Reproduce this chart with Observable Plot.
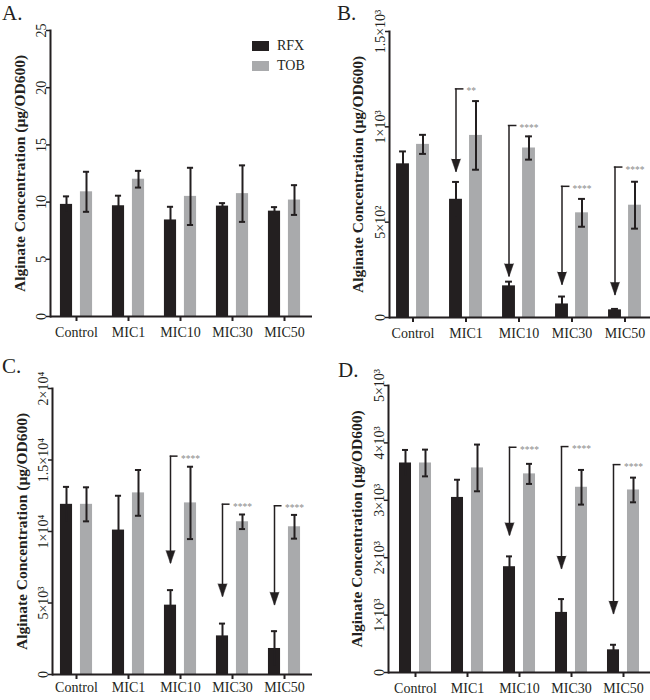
<!DOCTYPE html>
<html>
<head>
<meta charset="utf-8">
<script src="https://cdn.jsdelivr.net/npm/d3@7"></script>
<script src="https://cdn.jsdelivr.net/npm/@observablehq/plot@0.6"></script>
<style>
  body { margin: 0; background: #fff; overflow: hidden; }
  #wrap { position: relative; width: 650px; height: 700px; font-family: "Liberation Serif", "Times New Roman", serif; color: #231f20; }
  .panel { position: absolute; }
  .panel svg, .panel svg text { font-family: "Liberation Serif", "Times New Roman", serif !important; }
  .letter { position: absolute; font-size: 21px; line-height: 1; }
  .leg { position: absolute; font-size: 14px; line-height: 1; display: flex; align-items: center; }
  .sw { width: 17px; height: 10px; margin-right: 8px; }
</style>
</head>
<body>
<div id="wrap"></div>
<script>
// ---------------- data ----------------
const categories = ["Control", "MIC1", "MIC10", "MIC30", "MIC50"];
const seriesNames = ["RFX", "TOB"];
const yTitle = "Alginate Concentration (\u00b5g/OD600)";

// Panel A
const rfxA    = [9.8, 9.68, 8.44, 9.65, 9.21];
const rfxErrA = [0.7, 0.88, 1.15, 0.26, 0.35];
const tobA    = [10.9, 12.0, 10.5, 10.74, 10.18];
const tobErrA = [1.75, 0.73, 2.5, 2.47, 1.3];
const yTicksA = [0, 5, 10, 15, 20, 25];
const yTickLabelsA = ["0", "5", "10", "15", "20", "25"];

// Panel B
const rfxB    = [806, 620, 166, 71, 40];
const rfxErrB = [65, 91, 22, 39, 5];
const tobB    = [908, 955, 889, 549, 589];
const tobErrB = [50, 180, 61, 73, 123];
const yTicksB = [0, 500, 1000, 1500];
const yTickLabelsB = ["0", "5\u00d710\u00b2", "1\u00d710\u00b3", "1.5\u00d710\u00b3"];
const arrowCatsB = ["MIC1", "MIC10", "MIC30", "MIC50"];
const arrowTopB  = [1199, 1007, 688, 789];
const arrowTipB  = [763, 214, 171, 117];
const starsB     = ["**", "****", "****", "****"];

// Panel C
const rfxC    = [11900, 10100, 4850, 2700, 1820];
const rfxErrC = [1220, 2400, 1050, 860, 1210];
const tobC    = [11900, 12700, 12000, 10680, 10330];
const tobErrC = [1190, 1600, 2530, 510, 830];
const yTicksC = [0, 5000, 10000, 15000, 20000];
const yTickLabelsC = ["0", "5\u00d710\u00b3", "1\u00d710\u2074", "1.5\u00d710\u2074", "2\u00d710\u2074"];
const arrowCatsC = ["MIC10", "MIC30", "MIC50"];
const arrowTopC  = [15270, 11910, 11800];
const arrowTipC  = [7760, 5430, 4850];
const starsC     = ["****", "****", "****"];

// Panel D
const rfxD    = [3650, 3050, 1843, 1047, 395];
const rfxErrD = [227, 308, 180, 232, 88];
const tobD    = [3650, 3564, 3460, 3227, 3180];
const tobErrD = [233, 407, 175, 302, 215];
const yTicksD = [0, 1000, 2000, 3000, 4000, 5000];
const yTickLabelsD = ["0", "1\u00d710\u00b3", "2\u00d710\u00b3", "3\u00d710\u00b3", "4\u00d710\u00b3", "5\u00d710\u00b3"];
const arrowCatsD = ["MIC10", "MIC30", "MIC50"];
const arrowTopD  = [3924, 3936, 3622];
const arrowTipD  = [2384, 1802, 1017];
const starsD     = ["****", "****", "****"];

// ---------------- style ----------------
const BLACK = "#231f20";
const GRAY = "#a9aaac";
const STAR = "#8a8a8a";
const FONT = "Liberation Serif";

function makePanel(cfg) {
  const g = cfg.geo;
  const rfxRows = categories.map((c, i) => ({cat: c, series: seriesNames[0], v: cfg.rfx[i], e: cfg.rfxErr[i]}));
  const tobRows = categories.map((c, i) => ({cat: c, series: seriesNames[1], v: cfg.tob[i], e: cfg.tobErr[i]}));
  const tickRows = cfg.yTicks.map((t, i) => ({v: t, label: cfg.yTickLabels[i]}));
  const arrows = (cfg.arrowCats || []).map((c, i) => ({cat: c, top: cfg.arrowTop[i], tip: cfg.arrowTip[i], stars: cfg.stars[i]}));

  const bw = (g.range[1] - g.range[0]) / categories.length;
  const barW = 13, off = 10, capW = 7;
  const barInset = o => ({insetLeft: bw / 2 + o - barW / 2, insetRight: bw / 2 - o - barW / 2});
  const capInset = o => ({insetLeft: bw / 2 + o - capW / 2, insetRight: bw / 2 - o - capW / 2});

  const marks = [
    Plot.barY(rfxRows, {x: "cat", y: "v", fill: BLACK, ...barInset(-off)}),
    Plot.barY(tobRows, {x: "cat", y: "v", fill: GRAY, ...barInset(off)}),
    Plot.ruleX(rfxRows, {x: "cat", y1: d => d.v - d.e, y2: d => d.v + d.e, dx: -off, stroke: BLACK, strokeWidth: 2}),
    Plot.ruleX(tobRows, {x: "cat", y1: d => d.v - d.e, y2: d => d.v + d.e, dx: off, stroke: BLACK, strokeWidth: 2}),
    Plot.tickY(rfxRows, {x: "cat", y: d => d.v + d.e, stroke: BLACK, strokeWidth: 2, ...capInset(-off)}),
    Plot.tickY(tobRows, {x: "cat", y: d => d.v + d.e, stroke: BLACK, strokeWidth: 2, ...capInset(off)}),
    Plot.tickY(tobRows, {x: "cat", y: d => d.v - d.e, stroke: BLACK, strokeWidth: 2, ...capInset(off)}),
    // arrows
    Plot.ruleX(arrows, {x: "cat", y1: "top", y2: "tip", dx: -off, stroke: BLACK, strokeWidth: 1.5}),
    Plot.tickY(arrows, {x: "cat", y: "top", stroke: BLACK, strokeWidth: 1.5, insetLeft: bw / 2 - off - 0.75, insetRight: bw / 2 + off - 8}),
    Plot.vector(arrows, {x: "cat", y: "tip", dx: -off, length: 13, r: 4.5, rotate: 180, shape: "spike", anchor: "end", fill: BLACK, stroke: BLACK, strokeWidth: 0.5}),
    Plot.text(arrows, {x: "cat", y: "top", text: "stars", dx: 0.5, dy: 2.5, textAnchor: "start", fill: STAR, fontSize: 9.5, fontFamily: FONT}),
    // axes
    Plot.ruleY([0], {stroke: BLACK, strokeWidth: 2}),
    Plot.frame({anchor: "left", stroke: BLACK, strokeWidth: 2}),
    Plot.axisX({tickSize: 5, tickPadding: g.xPad, strokeWidth: 2, fontSize: 14, fontFamily: FONT, label: null, stroke: BLACK, fill: BLACK}),
    Plot.axisY({ticks: cfg.yTicks, tickSize: 4, tickFormat: () => "", label: null, strokeWidth: 1.5, stroke: BLACK}),
    Plot.text(tickRows, {y: "v", text: "label", frameAnchor: "left", dx: -5, rotate: -90, textAnchor: "middle", lineAnchor: "bottom", fontSize: 14, fontFamily: FONT, fill: BLACK}),
    Plot.text([yTitle], {frameAnchor: "left", dx: g.titleDx, rotate: -90, textAnchor: "middle", fontSize: 15.5, fontWeight: "bold", fontFamily: FONT, fill: BLACK})
  ];

  const svg = Plot.plot({
    width: g.width, height: 350,
    marginLeft: g.left, marginRight: g.right, marginTop: g.top, marginBottom: g.bottom,
    style: {fontFamily: FONT, fontSize: "14px", color: BLACK, background: "transparent", overflow: "visible"},
    x: {domain: categories, range: g.range, padding: 0, label: null},
    y: {domain: [0, cfg.yMax], label: null},
    marks
  });
  svg.setAttribute("font-family", FONT);
  return svg;
}

const panels = [
  {pos: [0, 0], letter: "A.", letterPos: [2, 3.4],
   cfg: {rfx: rfxA, rfxErr: rfxErrA, tob: tobA, tobErr: tobErrA, yMax: 25, yTicks: yTicksA, yTickLabels: yTickLabelsA,
         geo: {width: 325, left: 50, right: 13, top: 30, bottom: 34, range: [48.3, 312.6], xPad: 6, titleDx: -30}}},
  {pos: [325, 0], letter: "B.", letterPos: [12, 3.4],
   cfg: {rfx: rfxB, rfxErr: rfxErrB, tob: tobB, tobErr: tobErrB, yMax: 1500, yTicks: yTicksB, yTickLabels: yTickLabelsB,
         arrowCats: arrowCatsB, arrowTop: arrowTopB, arrowTip: arrowTipB, stars: starsB,
         geo: {width: 325, left: 64, right: 0, top: 31, bottom: 33, range: [61.1, 326.6], xPad: 5.5, titleDx: -31}}},
  {pos: [0, 350], letter: "C.", letterPos: [2, 6.4],
   cfg: {rfx: rfxC, rfxErr: rfxErrC, tob: tobC, tobErr: tobErrC, yMax: 20000, yTicks: yTicksC, yTickLabels: yTickLabelsC,
         arrowCats: arrowCatsC, arrowTop: arrowTopC, arrowTip: arrowTipC, stars: starsC,
         geo: {width: 325, left: 52, right: 13, top: 38, bottom: 26, range: [48, 312.5], xPad: 2.5, titleDx: -30}}},
  {pos: [325, 350], letter: "D.", letterPos: [13, 10.4],
   cfg: {rfx: rfxD, rfxErr: rfxErrD, tob: tobD, tobErr: tobErrD, yMax: 5000, yTicks: yTicksD, yTickLabels: yTickLabelsD,
         arrowCats: arrowCatsD, arrowTop: arrowTopD, arrowTip: arrowTipD, stars: starsD,
         geo: {width: 325, left: 63, right: 0, top: 35, bottom: 28, range: [61.3, 326.2], xPad: 6, titleDx: -31}}}
];

const wrap = document.getElementById("wrap");
panels.forEach(p => {
  const div = document.createElement("div");
  div.className = "panel";
  div.style.left = p.pos[0] + "px";
  div.style.top = p.pos[1] + "px";
  div.appendChild(makePanel(p.cfg));
  wrap.appendChild(div);
  const lt = document.createElement("div");
  lt.className = "letter";
  lt.textContent = p.letter;
  lt.style.left = (p.pos[0] + p.letterPos[0]) + "px";
  lt.style.top = (p.pos[1] + p.letterPos[1]) + "px";
  wrap.appendChild(lt);
});

// legend (panel A)
const legendColors = [BLACK, GRAY];
const legendTops = [38.6, 59];
seriesNames.forEach((s, i) => {
  const item = document.createElement("div");
  item.className = "leg";
  item.style.left = "252px";
  item.style.top = legendTops[i] + "px";
  const sw = document.createElement("div");
  sw.className = "sw";
  sw.style.background = legendColors[i];
  item.appendChild(sw);
  const t = document.createElement("span");
  t.textContent = s;
  item.appendChild(t);
  wrap.appendChild(item);
});
</script>
</body>
</html>
